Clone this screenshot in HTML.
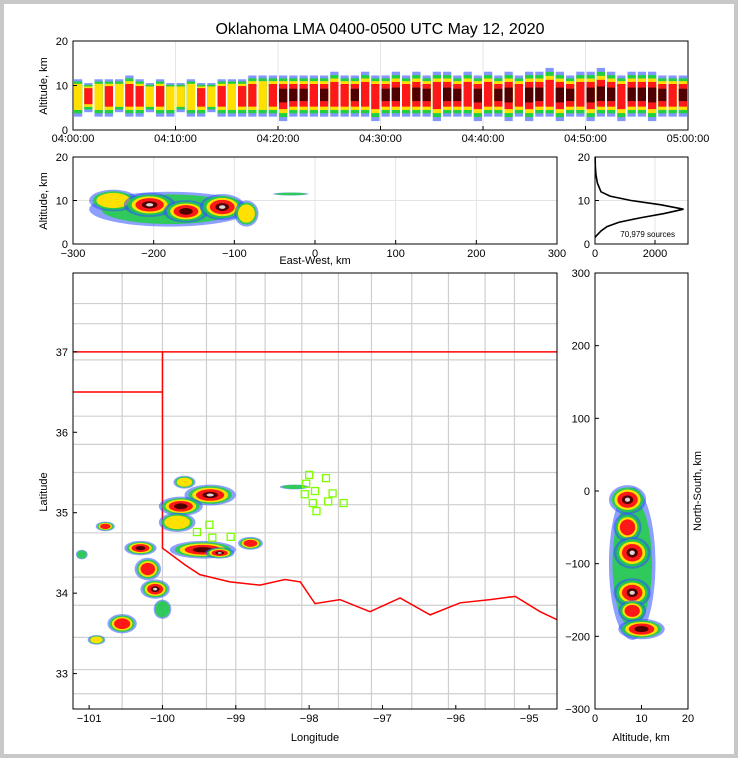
<!DOCTYPE html>
<html><head><meta charset="utf-8"><style>
body{margin:0;background:#c8c8c8}
svg{display:block}
text{font-family:"Liberation Sans",sans-serif;fill:#000}
</style></head><body>
<svg id="s" width="738" height="758" xmlns="http://www.w3.org/2000/svg">
<rect x="4" y="4" width="730" height="750" fill="#fff"/>
<text x="380" y="34" font-size="16" text-anchor="middle">Oklahoma LMA 0400-0500 UTC May 12, 2020</text>
<g id="g"></g>
</svg>
<script>
// ---- data ----
const timeTicks=["04:00:00","04:10:00","04:20:00","04:30:00","04:40:00","04:50:00","05:00:00"];
const minuteLevel=[2,3,2,3,2,3,3,2,3,2,2,2,3,2,3,2,3,3,2,3,4,4,4,3,4,3,3,4,3,3,4,4,3,4,4,3,4,4,3,4,3,4,4,3,4,4,3,4,4,3,4,5,4,3,4,4,5,4,3,4];
const minuteLow=[3,4,3,3,4,3,3,4,3,3,4,3,3,4,3,3,3,3,3,3,2,3,3,3,3,3,3,3,3,2,3,3,3,3,3,2,3,3,3,2,3,3,2,3,2,3,3,2,3,3,2,3,3,2,3,3,2,3,3,3];
const minuteHigh=[12,11,12,12,12,13,12,11,12,11,11,12,11,11,12,12,12,13,13,13,13,13,13,13,13,14,13,13,14,13,13,14,13,14,13,14,14,13,14,13,14,13,14,13,14,14,15,14,13,14,14,15,14,13,14,14,14,13,13,13];
const minuteCore=[8,8,8,8,8,8,8,8,8,8,8,8,8,8,8,8,8,8,8,8,8,8,8,8,8,8,8,8,8,8,8,8,8,8,8,8,8,8,8,8,8,8,8,8,8,8,8,8,8,8,8,8,8,8,8,8,8,8,8,8];
const ewBlobs=[[-180,8,100,4,1],[-250,10,30,2.5,2],[-205,9,32,2.8,5],[-160,7.5,28,2.6,4],[-115,8.5,28,3,5],[-85,7,15,3,2],[-30,11.5,22,0.35,1]];
const nsBlobs=[[8,-100,5,105,1],[7,-12,4,20,5],[7,-50,3,20,3],[8,-85,4,22,5],[8,-140,4,20,5],[8,-165,3,15,3],[10,-190,5,14,4]];
const mapBlobs=[[-99.35,35.22,0.35,0.13,5],[-99.75,35.08,0.3,0.12,4],[-99.7,35.38,0.15,0.08,2],[-99.8,34.88,0.25,0.12,2],[-100.78,34.83,0.13,0.06,3],[-100.3,34.56,0.22,0.09,4],[-99.45,34.54,0.45,0.11,4],[-99.22,34.5,0.2,0.07,5],[-98.8,34.62,0.17,0.08,3],[-100.2,34.3,0.18,0.14,3],[-100.1,34.05,0.2,0.12,5],[-100.0,33.8,0.12,0.12,1],[-100.55,33.62,0.2,0.12,3],[-100.9,33.42,0.12,0.06,2],[-101.1,34.48,0.08,0.06,1],[-98.2,35.32,0.2,0.03,1]];
const stations=[[-98.0,35.47],[-97.77,35.43],[-98.04,35.36],[-97.92,35.27],[-98.06,35.23],[-97.68,35.24],[-97.95,35.12],[-97.74,35.14],[-97.53,35.12],[-97.9,35.02],[-99.53,34.76],[-99.36,34.85],[-99.32,34.69],[-99.07,34.70]];
const histAlt=[1.5,2,3,4,5,6,7,8,9,10,11,12,14,16,18,20];
const histCount=[0,60,200,400,800,1500,2300,2950,2200,1200,500,200,80,30,10,5];
const lonTicks=[-101,-100,-99,-98,-97,-96,-95];
const latTicks=[33,34,35,36,37];
const ewTicks=[-300,-200,-100,0,100,200,300];
const nsTicks=[300,200,100,0,-100,-200,-300];
const redRiver=[[-100,37],[-100,34.56],[-99.69,34.35],[-99.49,34.23],[-99.08,34.14],[-98.67,34.1],[-98.33,34.17],[-98.12,34.14],[-97.92,33.87],[-97.58,33.92],[-97.17,33.77],[-96.76,33.94],[-96.35,33.73],[-95.94,33.88],[-95.53,33.92],[-95.19,33.96],[-94.85,33.77],[-94.62,33.67]];
const countyLons=[-100.55,-100.0,-99.4,-99.0,-98.6,-98.1,-97.6,-97.15,-96.6,-96.1,-95.6,-95.2];
const countyLats=[37.6,37.35,36.9,36.2,35.85,35.5,35.1,34.75,34.2,33.85,33.45,33.05,32.75];

// ---- helpers ----
const NS="http://www.w3.org/2000/svg";const G=document.getElementById('g');
function mk(t,a,p){const e=document.createElementNS(NS,t);for(const k in a)e.setAttribute(k,a[k]);(p||G).appendChild(e);return e;}
function lin(d0,d1,r0,r1){return v=>r0+(v-d0)*(r1-r0)/(d1-d0);}
const COLS=["#3050ff","#20d040","#ffe000","#ff1818","#500000","#d8d8d8"];
const SC=[1,0.85,0.7,0.55,0.3,0.14];
function blob(p,cx,cy,rx,ry,L){for(let k=0;k<=L;k++){const e=mk('ellipse',{cx:cx,cy:cy,rx:Math.max(rx*SC[k],1),ry:Math.max(ry*SC[k],0.8),fill:COLS[k],opacity:k==0?0.55:(k==1?0.85:1)},p);

}}
function frame(x0,y0,x1,y1,name){const r=mk('rect',{x:x0,y:y0,width:x1-x0,height:y1-y0,fill:'none',stroke:'#000','stroke-width':1});

}
function txt(x,y,s,anchor,size,name,rot){const t=mk('text',{x:x,y:y,'font-size':size||11,'text-anchor':anchor||'middle'});t.textContent=s;if(rot)t.setAttribute('transform',`rotate(-90 ${x} ${y})`);

return t;}
function clip(id,x0,y0,x1,y1){const c=mk('clipPath',{id:id});mk('rect',{x:x0,y:y0,width:x1-x0,height:y1-y0},c);const g=mk('g',{'clip-path':`url(#${id})`});return g;}
function tick(x1,y1,x2,y2){const l=mk('line',{x1:x1,y1:y1,x2:x2,y2:y2,stroke:'#000'});

}
function grid(x1,y1,x2,y2){const l=mk('line',{x1:x1,y1:y1,x2:x2,y2:y2,stroke:'#e4e4e4'});

}

// ---- panel 1: time vs altitude ----
{const X=lin(0,60,73,688),Y=lin(0,20,130,41);
[10,20,30,40,50].forEach(m=>grid(X(m),41,X(m),130));grid(73,Y(10),688,Y(10));
const g=clip('c1',73,41,688,130);
minuteLevel.forEach((L,i)=>{const lo=minuteLow[i],hi=minuteHigh[i],c=minuteCore[i];
for(let k=0;k<=Math.min(L,4);k++){const f=SC[k];const a=c-(c-lo)*f,b=c+(hi-c)*f*0.85;
const r=mk('rect',{x:X(i)+1,y:Y(b),width:X(1)-X(0)-2,height:Y(a)-Y(b),fill:COLS[k],opacity:k==0?0.6:1},g);

}});
frame(73,41,688,130,'time-altitude-plot');
[0,10,20].forEach(v=>{tick(73,Y(v),77,Y(v));txt(68,Y(v)+4,v,'end',11,'y-tick-label');});
timeTicks.forEach((s,i)=>{tick(X(i*10),130,X(i*10),126);txt(X(i*10),142,s,'middle',11,'x-tick-label');});
txt(47,86,'Altitude, km','middle',11,'y-axis-title',true);}

// ---- panel 2: east-west vs altitude ----
{const X=lin(-300,300,73,557),Y=lin(0,20,244,157);
ewTicks.forEach(v=>grid(X(v),157,X(v),244));grid(73,Y(10),557,Y(10));
const g=clip('c2',73,157,557,244);
ewBlobs.forEach(b=>blob(g,X(b[0]),Y(b[1]),X(b[2])-X(0),Y(0)-Y(b[3]),b[4]));
frame(73,157,557,244,'eastwest-altitude-plot');
[0,10,20].forEach(v=>{tick(73,Y(v),77,Y(v));txt(68,Y(v)+4,v,'end',11,'y-tick-label');});
ewTicks.forEach(v=>{tick(X(v),244,X(v),240);txt(X(v),257,v<0?'\u2212'+(-v):v,'middle',11,'x-tick-label');});
txt(315,264,'East-West, km','middle',11,'x-axis-title');
txt(47,201,'Altitude, km','middle',11,'y-axis-title',true);}

// ---- histogram ----
{const X=lin(0,2000,595,655),Y=lin(0,20,244,157);
grid(X(2000),157,X(2000),244);grid(595,Y(10),688,Y(10));
const pts=histAlt.map((a,i)=>X(histCount[i])+','+Y(a)).join(' ');
const p=mk('polyline',{points:pts,fill:'none',stroke:'#000','stroke-width':1.6});


frame(595,157,688,244,'altitude-histogram');
[0,10,20].forEach(v=>{tick(595,Y(v),599,Y(v));txt(590,Y(v)+4,v,'end',11,'y-tick-label');});
[0,2000].forEach(v=>{tick(X(v),244,X(v),240);txt(X(v),257,v,'middle',11,'x-tick-label');});
txt(675,237,'70,979 sources','end',8,'source-count');}

// ---- map ----
{const X=lin(-101.22,-94.62,73,557),Y=lin(37.98,32.56,273,709);
const g=clip('c3',73,273,557,709);
countyLons.forEach(v=>{const l=mk('line',{x1:X(v),y1:273,x2:X(v),y2:709,stroke:'#cfcfcf','stroke-width':1.2},g);

});
countyLats.forEach(v=>{const l=mk('line',{x1:73,y1:Y(v),x2:557,y2:Y(v),stroke:'#cfcfcf','stroke-width':1.2},g);

});
const ok=mk('polyline',{points:redRiver.map(p=>X(p[0])+','+Y(p[1])).join(' '),fill:'none',stroke:'#f00','stroke-width':1.5},g);


const t=mk('polyline',{points:[[-101.22,37],[-94.62,37]].map(p=>X(p[0])+','+Y(p[1])).join(' '),fill:'none',stroke:'#f00','stroke-width':1.5},g);


const ph=mk('polyline',{points:[[-101.22,36.5],[-100,36.5]].map(p=>X(p[0])+','+Y(p[1])).join(' '),fill:'none',stroke:'#f00','stroke-width':1.5},g);


mapBlobs.forEach(b=>blob(g,X(b[0]),Y(b[1]),X(b[0]+b[2])-X(b[0]),Y(b[1]-b[3])-Y(b[1]),b[4]));
stations.forEach(s=>{const r=mk('rect',{x:X(s[0])-3.5,y:Y(s[1])-3.5,width:7,height:7,fill:'none',stroke:'#7fff00','stroke-width':1.3},g);

});
frame(73,273,557,709,'map-plot');
latTicks.forEach(v=>{tick(73,Y(v),77,Y(v));txt(68,Y(v)+4,v,'end',11,'y-tick-label');});
lonTicks.forEach(v=>{tick(X(v),709,X(v),705);txt(X(v),722,'\u2212'+(-v),'middle',11,'x-tick-label');});
txt(315,741,'Longitude','middle',11,'x-axis-title');
txt(47,492,'Latitude','middle',11,'y-axis-title',true);}

// ---- right panel: altitude vs north-south ----
{const X=lin(0,20,595,688),Y=lin(300,-300,273,709);
const g=clip('c4',595,273,688,709);
nsBlobs.forEach(b=>blob(g,X(b[0]),Y(b[1]),X(b[2])-X(0),Y(0)-Y(b[3]),b[4]));
frame(595,273,688,709,'altitude-northsouth-plot');
nsTicks.forEach(v=>{tick(595,Y(v),599,Y(v));txt(590,Y(v)+4,v<0?'\u2212'+(-v):v,'end',11,'y-tick-label');});
[0,10,20].forEach(v=>{tick(X(v),709,X(v),705);txt(X(v),722,v,'middle',11,'x-tick-label');});
txt(641,741,'Altitude, km','middle',11,'x-axis-title');
txt(701,491,'North-South, km','middle',11,'y-axis-title',true);}
</script>
</body></html>
